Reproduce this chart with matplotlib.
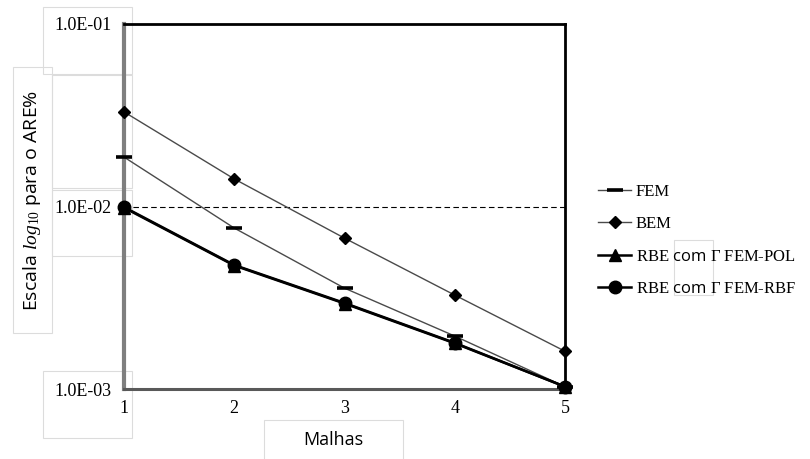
import numpy as np
import matplotlib
matplotlib.use("Agg")
import matplotlib.pyplot as plt
from matplotlib.patches import Rectangle
from matplotlib.ticker import FixedLocator, FuncFormatter, NullLocator

plt.rcParams['font.family'] = ['Liberation Serif', 'DejaVu Serif']
plt.rcParams['mathtext.fontset'] = 'custom'
plt.rcParams['mathtext.rm'] = 'Liberation Serif'
plt.rcParams['mathtext.it'] = 'Liberation Serif:italic'
plt.rcParams['mathtext.sf'] = 'Open Sans'

# data
malhas = [1, 2, 3, 4, 5]
fem = [0.01866, 0.00762, 0.00357, 0.00195, 0.00103]
bem = [0.0330, 0.01416, 0.00671, 0.00327, 0.00161]
rbe_pol = [0.00985, 0.00475, 0.00294, 0.00178, 0.00103]
rbe_rbf = [0.00993, 0.00478, 0.00296, 0.00179, 0.00103]
yticks = [1e-3, 1e-2, 1e-1]

W, H = 810, 459
fig = plt.figure(figsize=(W / 100, H / 100), dpi=100)

# faint text-box outlines as in the reference (behind everything)
boxes = [(43, 7, 132, 74), (52, 75, 132, 188), (52, 190, 132, 256),
         (13, 67, 52, 333), (43, 371, 132, 438), (264, 420, 403, 470),
         (674, 240, 713, 295)]
for x0, y0, x1, y1 in boxes:
    fig.patches.append(Rectangle((x0 / W, 1 - y1 / H), (x1 - x0) / W,
                                 (y1 - y0) / H, transform=fig.transFigure,
                                 fill=False, ec='#dcdcdc', lw=0.8, zorder=-5))

ax = fig.add_axes([124 / W, 1 - 389 / H, (565 - 124) / W, (389 - 24) / H])
ax.set_facecolor('none')

ax.set_yscale('log')
ax.set_ylim(1e-3, 1e-1)
ax.set_xlim(1, 5)

ax.axhline(1e-2, color='black', lw=0.8, ls=(0, (5, 3)), zorder=1)

ax.plot(malhas, fem, color='#4a4a4a', lw=1.0, marker='_', ms=11, mew=2.6,
        mec='black', label='FEM', clip_on=False, zorder=3)
ax.plot(malhas, bem, color='#4a4a4a', lw=1.0, marker='D', ms=6.5,
        mfc='black', mec='black', label='BEM', clip_on=False, zorder=3)
ax.plot(malhas, rbe_pol, color='black', lw=1.8, marker='^', ms=8,
        mfc='black', mec='black', label=r'RBE $\mathsf{com}$ Γ FEM-POL',
        clip_on=False, zorder=4)
ax.plot(malhas, rbe_rbf, color='black', lw=1.8, marker='o', ms=9,
        mfc='black', mec='black', label=r'RBE $\mathsf{com}$ Γ FEM-RBF',
        clip_on=False, zorder=5)

ax.yaxis.set_major_locator(FixedLocator(yticks))
ax.yaxis.set_minor_locator(NullLocator())
ax.yaxis.set_major_formatter(FuncFormatter(
    lambda v, p: '1.0E-%02d' % round(-np.log10(v))))
ax.set_xticks(malhas)
ax.tick_params(axis='both', length=0, labelsize=13)
ax.tick_params(axis='y', pad=9)
ax.tick_params(axis='x', pad=8)

for s in ['top', 'right']:
    ax.spines[s].set_color('black')
    ax.spines[s].set_linewidth(2.0)
ax.spines['left'].set_color('#7f7f7f')
ax.spines['left'].set_linewidth(3.0)
ax.spines['bottom'].set_color('#595959')
ax.spines['bottom'].set_linewidth(2.2)

# axis titles
fig.text(32 / W, 1 - 200 / H, r'Escala $\mathit{log}_{10}$ para o ARE%',
         rotation=90, ha='center', va='center', fontsize=14,
         family=['Open Sans', 'DejaVu Sans'])
fig.text(333 / W, 1 - 440 / H, 'Malhas', ha='center', va='center',
         fontsize=13, family=['Open Sans', 'DejaVu Sans'])

leg = ax.legend(loc='upper left', bbox_to_anchor=(598 / W, 1 - 184 / H),
                bbox_transform=fig.transFigure, frameon=False, fontsize=12,
                handlelength=2.0, handletextpad=0.25, labelspacing=0.98,
                borderpad=0, borderaxespad=0)

fig.savefig('out.png', dpi=100)
